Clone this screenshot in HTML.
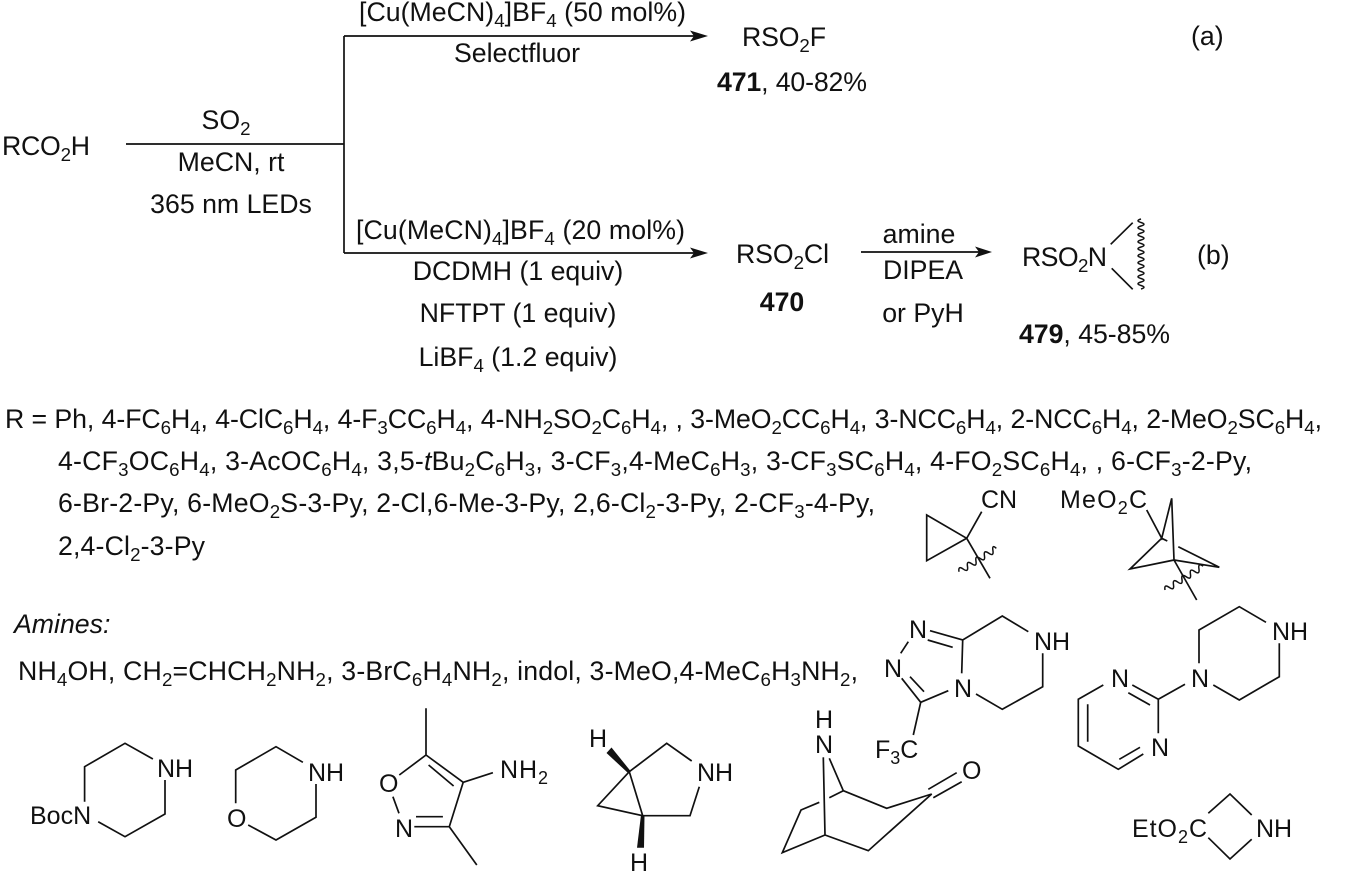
<!DOCTYPE html>
<html><head><meta charset="utf-8">
<style>
html,body{margin:0;padding:0;background:#fff}
svg{display:block}
text{font-family:"Liberation Sans",sans-serif;font-size:26.7px;fill:#111}
.s{font-size:18.7px;baseline-shift:-6px}
.a{font-size:25px}
.a .s{font-size:18px}
.m{text-anchor:middle}
.b{font-weight:bold}
.i{font-style:italic}
path,line,polyline{fill:none;stroke:#111;stroke-width:1.7;stroke-linejoin:miter}
.f{fill:#111;stroke:none}
.w{stroke-width:1.5}
</style></head><body>
<svg width="1350" height="875" viewBox="0 0 1350 875" xmlns="http://www.w3.org/2000/svg">
<!-- reaction scheme -->
<path d="M126 144H344M344 36V253M344 36H695M344 253H695M861 252H982"/>
<polygon class="f" points="708,36 690,30.5 694,36 690,41.5"/>
<polygon class="f" points="708,253 690,247.5 694,253 690,258.5"/>
<polygon class="f" points="992,252 975,246.5 979,252 975,257.5"/>

<text x="359" y="21" textLength="327">[Cu(MeCN)<tspan class="s">4</tspan>]BF<tspan class="s">4</tspan> (50 mol%)</text>
<text x="517" y="62" class="m">Selectfluor</text>
<text x="742" y="46" textLength="84">RSO<tspan class="s">2</tspan>F</text>
<text x="717" y="91" textLength="150"><tspan class="b">471</tspan>, 40-82%</text>
<text x="1191" y="45">(a)</text>
<text x="2" y="155" textLength="88">RCO<tspan class="s">2</tspan>H</text>
<text x="226" y="129" class="m">SO<tspan class="s">2</tspan></text>
<text x="231" y="171" class="m">MeCN, rt</text>
<text x="231" y="213" class="m">365 nm LEDs</text>
<text x="356" y="239" textLength="329">[Cu(MeCN)<tspan class="s">4</tspan>]BF<tspan class="s">4</tspan> (20 mol%)</text>
<text x="518" y="280" class="m">DCDMH (1 equiv)</text>
<text x="518" y="322" class="m">NFTPT (1 equiv)</text>
<text x="518" y="366" class="m">LiBF<tspan class="s">4</tspan> (1.2 equiv)</text>
<text x="736" y="263" textLength="93">RSO<tspan class="s">2</tspan>Cl</text>
<text x="782" y="311" class="m b">470</text>
<text x="919" y="243" class="m">amine</text>
<text x="923" y="279" class="m">DIPEA</text>
<text x="923" y="322" class="m">or PyH</text>
<text x="1022" y="266" textLength="85">RSO<tspan class="s">2</tspan>N</text>
<text x="1197" y="264">(b)</text>
<text x="1019" y="343" textLength="151"><tspan class="b">479</tspan>, 45-85%</text>
<path d="M1110.7 244.3L1132.7 222.7M1111.7 268.3L1132.7 289.3"/>
<path class="w" d="M1141 219q-6 1.75 0 3.5q6 1.75 0 3.5q-6 1.75 0 3.5q6 1.75 0 3.5q-6 1.75 0 3.5q6 1.75 0 3.5q-6 1.75 0 3.5q6 1.75 0 3.5q-6 1.75 0 3.5q6 1.75 0 3.5q-6 1.75 0 3.5q6 1.75 0 3.5q-6 1.75 0 3.5q6 1.75 0 3.5q-6 1.75 0 3.5q6 1.75 0 3.5q-6 1.75 0 3.5q6 1.75 0 3.5q-6 1.75 0 3.5q6 1.75 0 3.5"/>

<!-- R groups -->
<text x="5" y="428" textLength="1317">R = Ph, 4-FC<tspan class="s">6</tspan>H<tspan class="s">4</tspan>, 4-ClC<tspan class="s">6</tspan>H<tspan class="s">4</tspan>, 4-F<tspan class="s">3</tspan>CC<tspan class="s">6</tspan>H<tspan class="s">4</tspan>, 4-NH<tspan class="s">2</tspan>SO<tspan class="s">2</tspan>C<tspan class="s">6</tspan>H<tspan class="s">4</tspan>, , 3-MeO<tspan class="s">2</tspan>CC<tspan class="s">6</tspan>H<tspan class="s">4</tspan>, 3-NCC<tspan class="s">6</tspan>H<tspan class="s">4</tspan>, 2-NCC<tspan class="s">6</tspan>H<tspan class="s">4</tspan>, 2-MeO<tspan class="s">2</tspan>SC<tspan class="s">6</tspan>H<tspan class="s">4</tspan>,</text>
<text x="58" y="470" textLength="1194">4-CF<tspan class="s">3</tspan>OC<tspan class="s">6</tspan>H<tspan class="s">4</tspan>, 3-AcOC<tspan class="s">6</tspan>H<tspan class="s">4</tspan>, 3,5-<tspan class="i">t</tspan>Bu<tspan class="s">2</tspan>C<tspan class="s">6</tspan>H<tspan class="s">3</tspan>, 3-CF<tspan class="s">3</tspan>,4-MeC<tspan class="s">6</tspan>H<tspan class="s">3</tspan>, 3-CF<tspan class="s">3</tspan>SC<tspan class="s">6</tspan>H<tspan class="s">4</tspan>, 4-FO<tspan class="s">2</tspan>SC<tspan class="s">6</tspan>H<tspan class="s">4</tspan>, , 6-CF<tspan class="s">3</tspan>-2-Py,</text>
<text x="58" y="512" textLength="817">6-Br-2-Py, 6-MeO<tspan class="s">2</tspan>S-3-Py, 2-Cl,6-Me-3-Py, 2,6-Cl<tspan class="s">2</tspan>-3-Py, 2-CF<tspan class="s">3</tspan>-4-Py,</text>
<text x="58" y="555" textLength="147">2,4-Cl<tspan class="s">2</tspan>-3-Py</text>

<!-- cyclopropyl CN -->
<text x="981" y="508" class="a">CN</text>
<path d="M966.7 538.3L926.7 515V560.7L966.7 538.3L981.7 511.7M966.7 538.3L990 578.3"/>
<path class="w" transform="translate(959,571.7) rotate(-32)" d="M0 0q2.5 -6 5 0q2.5 6 5 0q2.5 -6 5 0q2.5 6 5 0q2.5 -6 5 0q2.5 6 5 0q2.5 -6 5 0q2.5 6 5 0q2.5 -6 4 0"/>

<!-- BCP -->
<text x="1060" y="508" class="a" textLength="87">MeO<tspan class="s">2</tspan>C</text>
<path d="M1146.7 510L1161.7 538.3L1171.7 498.3L1174 560L1130 569L1161.7 538.3L1167.3 541M1174 560L1219.3 567.3L1178.3 546.7M1174 560L1196.7 600"/>
<path class="w" transform="translate(1165,590) rotate(-32)" d="M0 0q2.5 -6 5 0q2.5 6 5 0q2.5 -6 5 0q2.5 6 5 0q2.5 -6 5 0q2.5 6 5 0q2.5 -6 5 0q2.5 6 5 0q2.5 -6 5 0"/>

<!-- amines -->
<text x="14" y="633" class="i">Amines:</text>
<text x="18" y="680" textLength="840">NH<tspan class="s">4</tspan>OH, CH<tspan class="s">2</tspan>=CHCH<tspan class="s">2</tspan>NH<tspan class="s">2</tspan>, 3-BrC<tspan class="s">6</tspan>H<tspan class="s">4</tspan>NH<tspan class="s">2</tspan>, indol, 3-MeO,4-MeC<tspan class="s">6</tspan>H<tspan class="s">3</tspan>NH<tspan class="s">2</tspan>,</text>

<!-- triazolopiperazine -->
<text x="909" y="638" class="a">N</text><text x="884" y="677" class="a">N</text><text x="954" y="697" class="a">N</text>
<text x="1034" y="650" class="a">NH</text>
<text x="875" y="758" class="a">F<tspan class="s">3</tspan>C</text>
<path d="M930 630.7L962.7 640L1002.3 616L1028.3 631.7M1042.7 653.3V686.7L1002.3 709.3L976 694M962.7 640L961.7 673.3M927.7 640L952.7 647.3M908.3 641.7L900.7 653.3M901.7 678.3L920.7 702.3L948.3 690.7M910 676.7L924 691.7M920.7 702.3L913.3 735"/>

<!-- pyrimidinyl piperazine -->
<text x="1111" y="687" class="a">N</text><text x="1151" y="756" class="a">N</text><text x="1191" y="687" class="a">N</text>
<text x="1272" y="640" class="a">NH</text>
<path d="M1103.3 685L1078.3 699.3V746L1118.3 769.3L1143.3 754M1087.7 704.3V741.7M1119.3 759.3L1140 747.3M1132.3 685L1158.3 699.3V733.3M1128.3 692.7L1150 705M1158.3 699.3L1185 684.3M1199 663.3V630L1239.3 606.7L1266 622.3M1279.3 643.3V676.7L1239.3 700L1213.3 685"/>

<!-- azetidine -->
<text x="1132" y="837" class="a" textLength="75">EtO<tspan class="s">2</tspan>C</text>
<text x="1256" y="837" class="a">NH</text>
<path d="M1208.3 813.3L1230 794L1251.7 815M1251.7 839.3L1230 859L1208.3 837.7"/>

<!-- Boc piperazine -->
<text x="30" y="824" class="a">BocN</text>
<text x="157" y="777" class="a">NH</text>
<path d="M84.6 801.7V766.7L125 743.3L152.9 759M165 780V814L125 836.7L98.2 821.7"/>

<!-- morpholine -->
<text x="227" y="827" class="a">O</text>
<text x="308" y="781" class="a">NH</text>
<path d="M235.7 803.3V770L276 746.7L302.9 762.3M316 784V817.3L276 840L248.2 825"/>

<!-- isoxazole -->
<text x="379" y="792" class="a">O</text>
<text x="395" y="837" class="a">N</text>
<text x="500" y="778" class="a" textLength="48">NH<tspan class="s">2</tspan></text>
<path d="M426 708.3V755L399.3 775M392.9 796.7L399 813.3M414.3 826.7H449.3L463.2 782.3L426 755M416 816.7H442.9M428.6 765L453.6 786M463.2 782.3L492.9 772.7M449.3 826.7L476.8 865"/>

<!-- azabicyclohexane -->
<text x="589" y="747" class="a">H</text>
<text x="630" y="871" class="a">H</text>
<text x="697" y="781" class="a">NH</text>
<polygon class="f" points="630.5,771 628,773 606.5,753 611.5,747.5"/>
<polygon class="f" points="641,815 644.5,815 644,847.7 637,847.7"/>
<path d="M629.3 771.7L597.7 805.7L642.7 815.7L629.3 771.7L666.7 743.3L691.7 761M699.3 786.7L690 815.7H642.7"/>

<!-- tropinone -->
<text x="815" y="728" class="a">H</text>
<text x="815" y="753" class="a">N</text>
<text x="962" y="779" class="a">O</text>
<path d="M823.3 757.3L825 835M829.3 758.3L843.3 790.7L886.7 808.3L931.7 794L868.3 850.7L825 835L782.3 852.7L801 810L819.3 802.3M829.3 797.7L843.3 790.7M928.3 789.3L956.7 772.7M933.3 797.7L961.7 781.7"/>
</svg>
</body></html>
